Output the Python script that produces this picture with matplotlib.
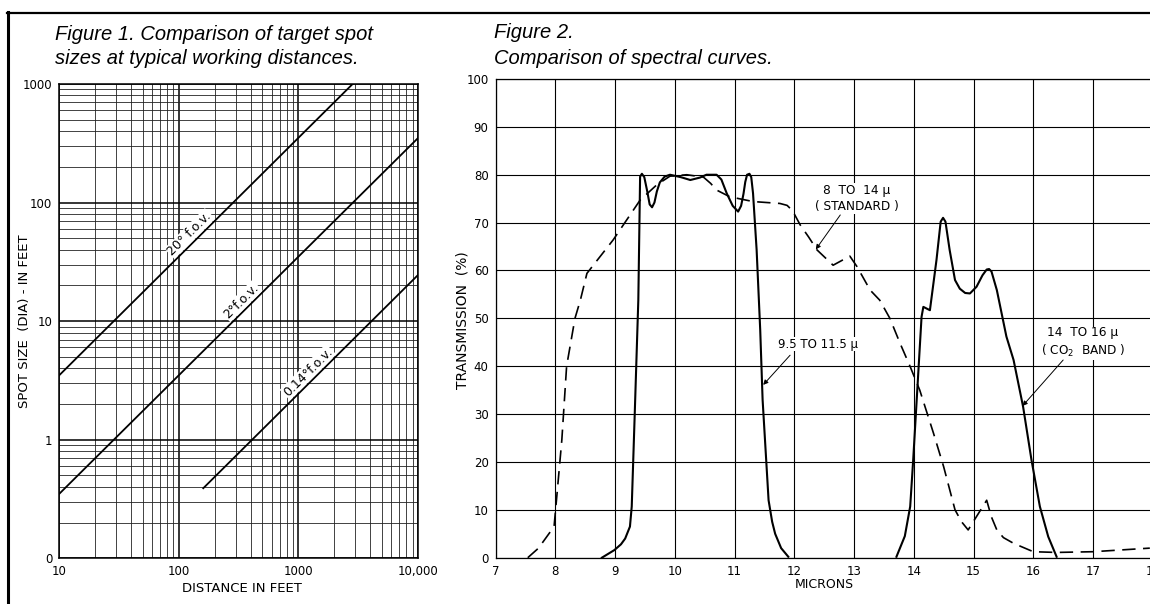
import numpy as np
import matplotlib
matplotlib.use("Agg")
import matplotlib.pyplot as plt
from matplotlib.lines import Line2D
from matplotlib.ticker import LogLocator, NullFormatter

# --- Figure 1 data : spot size lines (end points)
fov_labels = ['20° f.o.v.', '2°f.o.v.', '0.14°f.o.v.']
fov_dist = [[10, 2840], [10, 10000], [160, 10000]]
fov_spot = [[3.5, 1000], [0.35, 350], [0.39, 24.5]]
fov_label_at = [92, 270, 850]   # distance where label starts

# --- Figure 2 data : spectral curves
std_x = [7.54, 7.72, 7.98, 8.02, 8.11, 8.19, 8.33, 8.42, 8.53, 8.97, 9.42, 9.70, 9.92,
         10.20, 10.48, 10.60, 10.70, 10.92, 11.31, 11.76, 11.88, 11.97, 12.10, 12.24,
         12.38, 12.65, 12.93, 13.05, 13.27, 13.43, 13.60, 13.77, 13.94, 14.10, 14.33,
         14.50, 14.69, 14.80, 14.91, 15.22, 15.30, 15.39, 15.50, 15.67, 16.00, 16.39,
         17.00, 17.95]
std_y = [0, 2, 6.5, 12, 24.6, 40, 50, 53.8, 59.4, 66.4, 74.7, 77.9, 79.7,
         80, 79.5, 78.2, 76.8, 75.4, 74.4, 74, 73.6, 72.5, 69.5, 67,
         64.3, 61.1, 63.0, 60.8, 55.9, 53.8, 50.0, 44.8, 39.9, 35, 26,
         19, 10, 7.5, 5.8, 12, 8.5, 5.8, 4.2, 3, 1.25, 1.1,
         1.25, 2]

b1_x = [8.78, 8.99, 9.10, 9.17, 9.25, 9.28, 9.33, 9.39, 9.42, 9.45, 9.49, 9.54, 9.58,
        9.62, 9.66, 9.70, 9.75, 9.83, 9.92, 10.10, 10.26, 10.42, 10.53, 10.70, 10.78,
        10.87, 10.97, 11.06, 11.11, 11.15, 11.18, 11.21, 11.25, 11.28, 11.31, 11.37,
        11.43, 11.47, 11.57, 11.63, 11.68, 11.78, 11.90]
b1_y = [0, 1.6, 2.8, 4, 6.5, 10.7, 30, 53.8, 79.6, 80.2, 79.5, 76.5, 73.8,
        73.2, 74.2, 76.5, 78.4, 79.6, 80, 79.5, 78.9, 79.4, 80, 80, 79,
        76.1, 73.5, 72.3, 73.5, 76, 78.5, 80, 80.2, 79.5, 76.1, 64.3,
        47.6, 33, 12, 7.5, 5, 2, 0.2]

b2_x = [13.71, 13.85, 13.94, 13.99, 14.13, 14.16, 14.27, 14.38, 14.45, 14.49, 14.53,
        14.60, 14.69, 14.77, 14.86, 14.94, 15.05, 15.15, 15.22, 15.26, 15.30, 15.39,
        15.55, 15.67, 15.83, 15.97, 16.11, 16.25, 16.39]
b2_y = [0.2, 4.5, 10.7, 20.4, 50.3, 52.4, 51.7, 62.2, 70.2, 71, 70.2,
        64.3, 58, 56.2, 55.3, 55.2, 56.6, 59, 60.2, 60.3, 59.8, 55.9,
        46.2, 41.3, 31.5, 20.4, 10.7, 4.4, 0.2]

plt.rcParams['font.family'] = ['DejaVu Sans']
W, H = 1150, 604
fig = plt.figure(figsize=(W / 100, H / 100), dpi=100)
fig.patch.set_facecolor('white')

def fx(px):
    return px / W

def fy(py):
    return 1 - py / H

# frame lines
fig.add_artist(Line2D([fx(7), fx(1150)], [fy(12.5), fy(12.5)], color='black', lw=1.6))
fig.add_artist(Line2D([fx(7.5), fx(7.5)], [fy(12), fy(604)], color='black', lw=2.2))

title_font = dict(family='Liberation Sans', style='italic', size=14.5)
fig.text(fx(55), fy(35), 'Figure 1. Comparison of target spot', va='center', **title_font)
fig.text(fx(55), fy(58), 'sizes at typical working distances.', va='center', **title_font)
fig.text(fx(494), fy(33), 'Figure 2.', va='center', **title_font)
fig.text(fx(494), fy(58), 'Comparison of spectral curves.', va='center', **title_font)

# ---------------- Figure 1 ----------------
ax1 = fig.add_axes([fx(59.3), fy(558.3), fx(418 - 59.3), (558.3 - 84) / H])
ax1.set_xscale('log')
ax1.set_yscale('log')
ax1.set_xlim(10, 10000)
ax1.set_ylim(0.1, 1000)
ax1.xaxis.set_minor_locator(LogLocator(base=10, subs=np.arange(2, 10)))
ax1.yaxis.set_minor_locator(LogLocator(base=10, subs=np.arange(2, 10)))
ax1.xaxis.set_minor_formatter(NullFormatter())
ax1.yaxis.set_minor_formatter(NullFormatter())
ax1.set_xticks([10, 100, 1000, 10000])
ax1.set_xticklabels(['10', '100', '1000', '10,000'])
ax1.set_yticks([0.1, 1, 10, 100, 1000])
ax1.set_yticklabels(['0', '1', '10', '100', '1000'])
ax1.grid(which='major', color='black', lw=1.1)
ax1.grid(which='minor', color='#222222', lw=0.6)
ax1.tick_params(which='both', length=0, labelsize=8.5, pad=5)
for s in ax1.spines.values():
    s.set_linewidth(1.1)
ax1.set_axisbelow(True)

for d, s in zip(fov_dist, fov_spot):
    ax1.plot(d, s, color='black', lw=1.3)

for lab, d, s, dl in zip(fov_labels, fov_dist, fov_spot, fov_label_at):
    # place label on the line
    t = (np.log10(dl) - np.log10(d[0])) / (np.log10(d[1]) - np.log10(d[0]))
    sl = 10 ** (np.log10(s[0]) + t * (np.log10(s[1]) - np.log10(s[0])))
    p0 = ax1.transData.transform((d[0], s[0]))
    p1 = ax1.transData.transform((d[1], s[1]))
    ang = np.degrees(np.arctan2(p1[1] - p0[1], p1[0] - p0[0]))
    ax1.text(dl, sl * 1.06, lab, rotation=ang, rotation_mode='anchor',
             ha='left', va='bottom', fontsize=9,
             bbox=dict(facecolor='white', edgecolor='none', pad=0.6))

fig.text(fx(25), fy(321), 'SPOT SIZE  (DIA) - IN FEET', rotation=90,
         ha='center', va='center', fontsize=9.5)
fig.text(fx(242), fy(588), 'DISTANCE IN FEET', ha='center', va='center', fontsize=9.5)

# ---------------- Figure 2 ----------------
ax2 = fig.add_axes([fx(495.5), fy(557.7), fx(1152.8 - 495.5), (557.7 - 79) / H])
ax2.set_xlim(7, 18)
ax2.set_ylim(0, 100)
ax2.set_xticks(np.arange(7, 19))
ax2.set_yticks(np.arange(0, 101, 10))
ax2.grid(color='black', lw=0.8)
ax2.tick_params(length=0, labelsize=8.5, pad=5)
ax2.spines['right'].set_visible(False)
for s in ['left', 'top', 'bottom']:
    ax2.spines[s].set_linewidth(0.9)
ax2.set_axisbelow(True)

ax2.plot(std_x, std_y, color='black', lw=1.2, ls=(0, (8, 4.5)))
ax2.plot(b1_x, b1_y, color='black', lw=1.5)
ax2.plot(b2_x, b2_y, color='black', lw=1.5)

arrow = dict(arrowstyle='-|>', color='black', lw=0.7, mutation_scale=7,
             shrinkA=0, shrinkB=0)
ax2.text(13.05, 75.0, '8  TO  14 µ\n( STANDARD )', ha='center', va='center',
         fontsize=8.7, linespacing=1.3,
         bbox=dict(facecolor='white', edgecolor='none', pad=0.5))
ax2.annotate('', xy=(12.36, 64.4), xytext=(12.77, 71.6), arrowprops=arrow)

ax2.text(12.39, 44.6, '9.5 TO 11.5 µ', ha='center', va='center', fontsize=8.5,
         bbox=dict(facecolor='white', edgecolor='none', pad=0.5))
ax2.annotate('', xy=(11.48, 36.1), xytext=(11.93, 42.3), arrowprops=arrow)

ax2.text(16.83, 44.9, '14  TO 16 µ\n( CO$_2$  BAND )', ha='center', va='center',
         fontsize=8.7, linespacing=1.3,
         bbox=dict(facecolor='white', edgecolor='none', pad=0.5))
ax2.annotate('', xy=(15.82, 31.7), xytext=(16.50, 41.3), arrowprops=arrow)

fig.text(fx(462), fy(320), 'TRANSMISSION  (%)', rotation=90, ha='center',
         va='center', fontsize=10)
fig.text(fx(824), fy(585), 'MICRONS', ha='center', va='center', fontsize=9)

fig.savefig('out.png', dpi=100)
